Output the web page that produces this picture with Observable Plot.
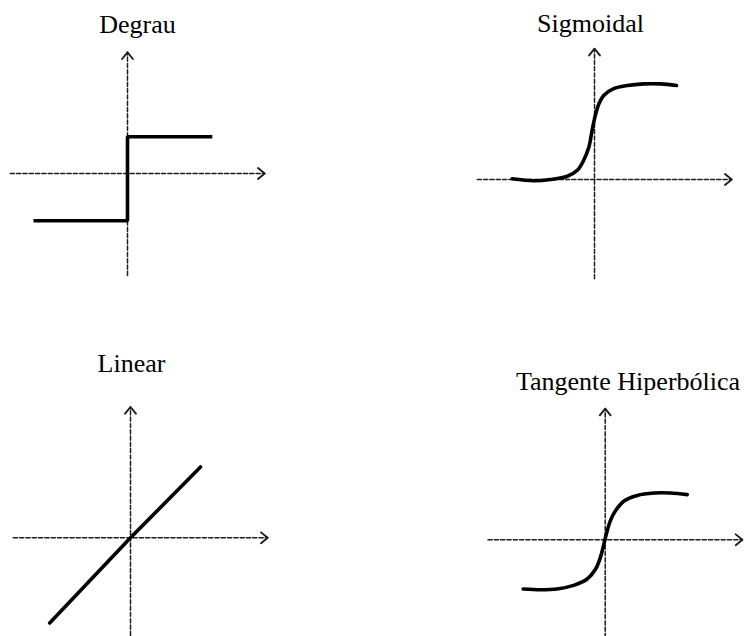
<!DOCTYPE html>
<html>
<head>
<meta charset="utf-8">
<script src="https://cdn.jsdelivr.net/npm/d3@7"></script>
<script src="https://cdn.jsdelivr.net/npm/@observablehq/plot@0.6"></script>
<style>
  html, body { margin: 0; padding: 0; background: #fff; }
  #chart { position: relative; width: 744px; height: 636px; overflow: hidden; background: #fff; }
  .panel { position: absolute; width: 372px; height: 318px; }
  .panel svg { overflow: visible; }
  .title { position: absolute; font-family: "Liberation Serif", "Times New Roman", serif; font-size: 26px;
           line-height: 26px; color: #000; white-space: nowrap; transform: translateX(-50%); }
</style>
</head>
<body>
<div id="chart"></div>
<script>
// ---- data (units: 1 unit ≈ 40 px, origin at axes crossing) ----
const titles = ["Degrau", "Sigmoidal", "Linear", "Tangente Hiperbólica"];

const stepX = [-2.35, 0, 0, 2.12];
const stepY = [-1.18, -1.18, 0.92, 0.92];

const sigX = [-2.06, -1.52, -1.10, -0.68, -0.43, -0.27, -0.14, -0.06, 0.01, 0.11, 0.23, 0.48, 0.82, 1.23, 1.65, 2.05];
const sigY = [0.02, -0.03, 0.00, 0.08, 0.23, 0.48, 0.81, 1.23, 1.56, 1.89, 2.10, 2.27, 2.35, 2.39, 2.39, 2.35];

const linX = [-2.02, 0, 1.75];
const linY = [-2.13, 0, 1.77];

const tanhX = [-2.05, -1.62, -1.20, -0.79, -0.45, -0.24, -0.12, -0.04, 0.03, 0.13, 0.26, 0.47, 0.80, 1.22, 1.63, 2.05];
const tanhY = [-1.23, -1.25, -1.23, -1.14, -0.98, -0.73, -0.44, -0.14, 0.15, 0.48, 0.73, 0.97, 1.11, 1.17, 1.17, 1.13];

// axis extents [start, arrow tip]
const hAxis = [-2.93, 3.43];
const vAxisStep = [-2.55, 3.03];
const vAxisSig = [-2.48, 3.27];
const vAxisLin = [-2.6, 3.27];
const vAxisTanh = [-2.6, 3.28];

// ---- layout ----
const U = 40;          // px per unit
const PW = 372, PH = 318;
const AXIS_COLOR = "#1e1e1e";

const panels = [
  {title: titles[0], left: 0,   top: 0,   OX: 127,   OY: 173,   tx: 137.5, tb: 34,
   xs: stepX, ys: stepY, curve: "linear", vAxis: vAxisStep, join: "miter", cap: "butt"},
  {title: titles[1], left: 372, top: 0,   OX: 594,   OY: 179,   tx: 590.5, tb: 33,
   xs: sigX, ys: sigY, curve: "catmull-rom", vAxis: vAxisSig, join: "round", cap: "round"},
  {title: titles[2], left: 0,   top: 318, OX: 130,   OY: 537.3, tx: 131.5, tb: 373,
   xs: linX, ys: linY, curve: "linear", vAxis: vAxisLin, join: "round", cap: "round"},
  {title: titles[3], left: 372, top: 318, OX: 604.7, OY: 539.3, tx: 628,   tb: 390.7,
   xs: tanhX, ys: tanhY, curve: "catmull-rom", vAxis: vAxisTanh, join: "round", cap: "round"}
];

const chart = document.getElementById("chart");

for (const p of panels) {
  const ox = p.OX - p.left, oy = p.OY - p.top;
  const curveData = p.xs.map((x, i) => ({x, y: p.ys[i]}));
  const hLine = hAxis.map(x => ({x, y: 0}));
  const vLine = p.vAxis.map(y => ({x: 0, y}));
  const hHead = [{x1: hAxis[1] - 1, x2: hAxis[1], y1: 0, y2: 0}];
  const vHead = [{x1: 0, x2: 0, y1: p.vAxis[1] - 1, y2: p.vAxis[1]}];

  const headOpts = {
    x1: "x1", x2: "x2", y1: "y1", y2: "y2",
    stroke: AXIS_COLOR, strokeWidth: 1.9,
    headLength: 6.8, headAngle: 78, insetStart: U - 1,
    strokeLinecap: "round", strokeLinejoin: "miter"
  };

  const svg = Plot.plot({
    width: PW, height: PH, margin: 0,
    style: {background: "transparent", overflow: "visible"},
    x: {axis: null, domain: [-ox / U, (PW - ox) / U]},
    y: {axis: null, domain: [-(PH - oy) / U, oy / U]},
    marks: [
      Plot.line(hLine, {x: "x", y: "y", stroke: AXIS_COLOR, strokeWidth: 1.5, strokeDasharray: "4.2,2.1"}),
      Plot.line(vLine, {x: "x", y: "y", stroke: AXIS_COLOR, strokeWidth: 1.5, strokeDasharray: "4.2,2.1"}),
      Plot.arrow(hHead, headOpts),
      Plot.arrow(vHead, headOpts),
      Plot.line(curveData, {x: "x", y: "y", curve: p.curve, stroke: "#000", strokeWidth: 3.6,
                            strokeLinejoin: p.join, strokeLinecap: p.cap})
    ]
  });

  const div = document.createElement("div");
  div.className = "panel";
  div.style.left = p.left + "px";
  div.style.top = p.top + "px";
  div.appendChild(svg);
  chart.appendChild(div);

  const t = document.createElement("div");
  t.className = "title";
  t.textContent = p.title;
  t.style.left = p.tx + "px";
  t.style.top = (p.tb - 21.8) + "px";
  chart.appendChild(t);
}
</script>
</body>
</html>
